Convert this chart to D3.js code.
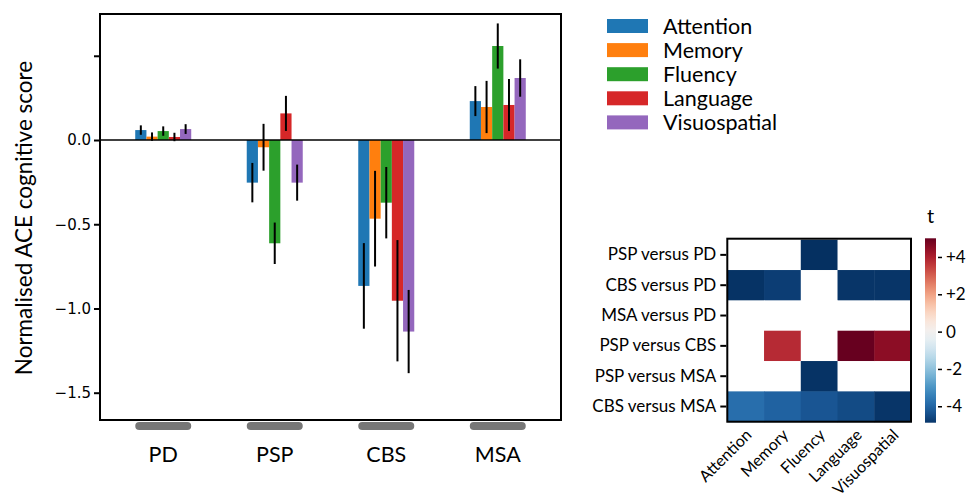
<!DOCTYPE html>
<html>
<head>
<meta charset="utf-8">
<script src="https://cdn.jsdelivr.net/npm/d3@7"></script>
<style>
  body { margin: 0; background: #fff; }
  svg { display: block; }
  .gill { font-family: Lato, "Open Sans", sans-serif; }
  .tick-num { font-family: "DejaVu Sans", sans-serif; }
</style>
</head>
<body>
<svg id="chart" width="970" height="495"></svg>
<script>
const groups = ["PD", "PSP", "CBS", "MSA"]
const domains = ["Attention", "Memory", "Fluency", "Language", "Visuospatial"]
const colors = ["#1f77b4", "#ff7f0e", "#2ca02c", "#d62728", "#9467bd"]

// mean score per domain, one value per group (PD, PSP, CBS, MSA)
const attention = [0.059, -0.253, -0.866, 0.231]
const memory = [0.020, -0.043, -0.467, 0.196]
const fluency = [0.053, -0.613, -0.372, 0.558]
const language = [0.018, 0.158, -0.954, 0.208]
const visuospatial = [0.065, -0.253, -1.137, 0.368]

// error bar half-lengths
const attentionErr = [0.028, 0.117, 0.254, 0.089]
const memoryErr = [0.025, 0.139, 0.284, 0.155]
const fluencyErr = [0.028, 0.123, 0.212, 0.134]
const languageErr = [0.025, 0.104, 0.360, 0.154]
const visuospatialErr = [0.029, 0.107, 0.247, 0.111]

const yTicks = [-1.5, -1.0, -0.5, 0.0, 0.5]

// heatmap of t values (null = not significant, drawn white)
const contrasts = ["PSP versus PD", "CBS versus PD", "MSA versus PD", "PSP versus CBS", "PSP versus MSA", "CBS versus MSA"]
const tPspPd = [null, null, -5.0, null, null]
const tCbsPd = [-4.95, -4.75, null, -4.9, -4.9]
const tMsaPd = [null, null, null, null, null]
const tPspCbs = [null, 3.8, null, 5.0, 4.5]
const tPspMsa = [null, null, -4.95, null, null]
const tCbsMsa = [-3.8, -4.05, -4.3, -4.5, -4.9]
const cbarTicks = [-4, -2, 0, 2, 4]

const means = [attention, memory, fluency, language, visuospatial]
const errs = [attentionErr, memoryErr, fluencyErr, languageErr, visuospatialErr]
const tRows = [tPspPd, tCbsPd, tMsaPd, tPspCbs, tPspMsa, tCbsMsa]

const svg = d3.select("#chart")

// ---------- bar chart ----------
const plot = {left: 100, right: 561, top: 14, bottom: 420}

const xGroup = d3.scalePoint()
    .domain(groups)
    .range([plot.left, plot.right])
    .padding(0.567)

const xInner = d3.scaleBand()
    .domain(domains)
    .range([-28, 28])

const yScale = d3.scaleLinear()
    .domain([-1.662, 0.748])
    .range([plot.bottom, plot.top])

const bars = []
domains.forEach((dom, i) => {
    groups.forEach((g, j) => {
        bars.push({group: g, domain: dom, value: means[i][j], err: errs[i][j], color: colors[i]})
    })
})

const g = svg.append("g")

g.selectAll("rect.bar")
    .data(bars)
    .join("rect")
    .attr("class", "bar")
    .attr("x", d => xGroup(d.group) + xInner(d.domain))
    .attr("width", xInner.bandwidth())
    .attr("y", d => yScale(Math.max(0, d.value)))
    .attr("height", d => Math.abs(yScale(d.value) - yScale(0)))
    .attr("fill", d => d.color)

// zero line
g.append("line")
    .attr("x1", plot.left).attr("x2", plot.right)
    .attr("y1", yScale(0)).attr("y2", yScale(0))
    .attr("stroke", "#000").attr("stroke-width", 1.5)

// error bars
g.selectAll("line.err")
    .data(bars)
    .join("line")
    .attr("class", "err")
    .attr("x1", d => xGroup(d.group) + xInner(d.domain) + xInner.bandwidth() / 2)
    .attr("x2", d => xGroup(d.group) + xInner(d.domain) + xInner.bandwidth() / 2)
    .attr("y1", d => yScale(d.value + d.err))
    .attr("y2", d => yScale(d.value - d.err))
    .attr("stroke", "#000")
    .attr("stroke-width", 2)

// frame
g.append("rect")
    .attr("x", plot.left).attr("y", plot.top)
    .attr("width", plot.right - plot.left)
    .attr("height", plot.bottom - plot.top)
    .attr("fill", "none")
    .attr("stroke", "#000")
    .attr("stroke-width", 2)

// y axis
const yAxis = g.append("g")
    .attr("transform", `translate(${plot.left},0)`)
    .call(d3.axisLeft(yScale)
        .tickValues(yTicks)
        .tickSize(6)
        .tickPadding(3)
        .tickFormat(d => d > 0 ? "" : d3.format(".1f")(d)))
yAxis.select(".domain").remove()
yAxis.selectAll("line").attr("stroke", "#000").attr("stroke-width", 2)
yAxis.selectAll("text")
    .attr("class", "tick-num")
    .attr("font-size", 15)
    .attr("fill", "#000")

g.append("text")
    .attr("class", "gill")
    .attr("transform", `translate(32,${(plot.top + plot.bottom) / 2 + 1}) rotate(-90)`)
    .attr("text-anchor", "middle")
    .attr("font-size", 22.5)
    .text("Normalised ACE cognitive score")

// grey group markers and labels
g.selectAll("rect.marker")
    .data(groups)
    .join("rect")
    .attr("class", "marker")
    .attr("x", d => xGroup(d) - 28)
    .attr("y", 422)
    .attr("width", 56)
    .attr("height", 8)
    .attr("rx", 4)
    .attr("fill", "#777")

g.selectAll("text.group")
    .data(groups)
    .join("text")
    .attr("class", "gill group")
    .attr("x", d => xGroup(d))
    .attr("y", 461.5)
    .attr("text-anchor", "middle")
    .attr("font-size", 21.5)
    .text(d => d)

// legend
const legend = svg.append("g").attr("transform", "translate(607,19)")
const legendItem = legend.selectAll("g")
    .data(domains)
    .join("g")
    .attr("transform", (d, i) => `translate(0,${i * 24.1})`)
legendItem.append("rect")
    .attr("width", 41).attr("height", 14)
    .attr("fill", (d, i) => colors[i])
legendItem.append("text")
    .attr("class", "gill")
    .attr("x", 56)
    .attr("y", 14.5)
    .attr("font-size", 21.5)
    .text(d => d)

// ---------- heatmap ----------
const hm = {left: 727.3, right: 911, top: 239.7, bottom: 421.7}

const xHeat = d3.scaleBand().domain(domains).range([hm.left, hm.right])
const yHeat = d3.scaleBand().domain(contrasts).range([hm.top, hm.bottom])
const tColor = v => d3.interpolateRdBu(0.5 - v / 10)

const cells = []
contrasts.forEach((c, i) => {
    domains.forEach((dom, j) => {
        cells.push({row: c, col: dom, t: tRows[i][j]})
    })
})

svg.append("g").selectAll("rect")
    .data(cells)
    .join("rect")
    .attr("x", d => xHeat(d.col))
    .attr("y", d => yHeat(d.row))
    .attr("width", xHeat.bandwidth() + 0.5)
    .attr("height", yHeat.bandwidth() + 0.5)
    .attr("fill", d => d.t === null ? "#fff" : tColor(d.t))

svg.append("rect")
    .attr("x", hm.left).attr("y", hm.top - 1)
    .attr("width", hm.right - hm.left)
    .attr("height", hm.bottom - hm.top + 1)
    .attr("fill", "none")
    .attr("stroke", "#000")
    .attr("stroke-width", 2)

const yHeatAxis = svg.append("g")
    .attr("transform", `translate(${hm.left - 1},0)`)
    .call(d3.axisLeft(yHeat).tickSize(6).tickPadding(4))
yHeatAxis.select(".domain").remove()
yHeatAxis.selectAll("line").attr("stroke", "#000").attr("stroke-width", 2)
yHeatAxis.selectAll("text")
    .attr("class", "gill")
    .attr("font-size", 17)
    .attr("fill", "#000")

svg.append("g").selectAll("text")
    .data(domains)
    .join("text")
    .attr("class", "gill")
    .attr("text-anchor", "end")
    .attr("font-size", 16)
    .attr("transform", d => `translate(${xHeat(d) + xHeat.bandwidth() / 2 + 7},436) rotate(-45)`)
    .text(d => d)

// colorbar
const cb = {left: 925, right: 936, top: 238.3, bottom: 422.7}
const cbScale = d3.scaleLinear().domain([-4.88, 5]).range([cb.bottom, cb.top])

const grad = svg.append("defs").append("linearGradient")
    .attr("id", "cbgrad")
    .attr("x1", 0).attr("x2", 0).attr("y1", 1).attr("y2", 0)
grad.selectAll("stop")
    .data(d3.range(0, 1.0001, 0.05))
    .join("stop")
    .attr("offset", d => d)
    .attr("stop-color", d => tColor(cbScale.domain()[0] + d * (cbScale.domain()[1] - cbScale.domain()[0])))

svg.append("rect")
    .attr("x", cb.left).attr("y", cb.top)
    .attr("width", cb.right - cb.left)
    .attr("height", cb.bottom - cb.top)
    .attr("fill", "url(#cbgrad)")

const cbAxis = svg.append("g")
    .attr("transform", `translate(${cb.right + 2},0)`)
    .call(d3.axisRight(cbScale)
        .tickValues(cbarTicks)
        .tickSize(4)
        .tickPadding(4)
        .tickFormat(d => d > 0 ? "+" + d : d < 0 ? "-" + Math.abs(d) : "0"))
cbAxis.select(".domain").remove()
cbAxis.selectAll("line").attr("stroke", "#000").attr("stroke-width", 1.5)
cbAxis.selectAll("text")
    .attr("class", "gill")
    .attr("font-size", 17)
    .attr("fill", "#000")

svg.append("text")
    .attr("class", "gill")
    .attr("x", (cb.left + cb.right) / 2)
    .attr("y", 222.5)
    .attr("text-anchor", "middle")
    .attr("font-size", 20)
    .text("t")
</script>
</body>
</html>
